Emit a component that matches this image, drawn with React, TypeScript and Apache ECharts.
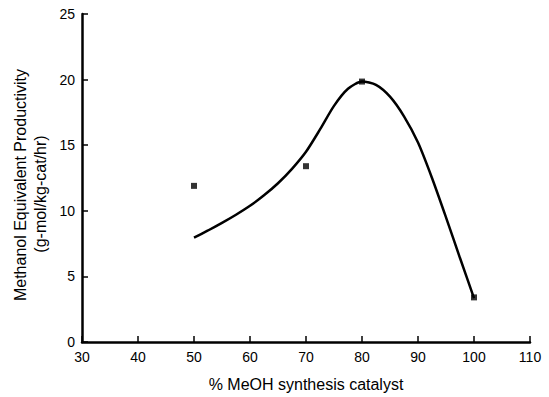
import React, { useEffect, useRef } from "react";
import * as echarts from "echarts";

const xTicks = [30, 40, 50, 60, 70, 80, 90, 100, 110];
const yTicks = [0, 5, 10, 15, 20, 25];
const measuredX = [50, 70, 80, 100];
const measuredY = [11.9, 13.4, 19.85, 3.4];
const fitX = [50, 52.5, 55, 57.5, 60, 62.5, 65, 67.5, 70, 72.5, 75, 77.5, 80, 82.5, 85, 87.5, 90, 92.5, 95, 97.5, 100];
const fitY = [7.95, 8.5, 9.08, 9.7, 10.38, 11.18, 12.1, 13.2, 14.5, 16.2, 18.0, 19.3, 19.85, 19.6, 18.7, 17.2, 15.2, 12.5, 9.5, 6.4, 3.35];
const xTitle = "% MeOH synthesis catalyst";
const yTitle1 = "Methanol Equivalent Productivity";
const yTitle2 = "(g-mol/kg-cat/hr)";

const FONT = "'Liberation Sans', Arial, sans-serif";

export default function App() {
  const ref = useRef<HTMLDivElement>(null);
  useEffect(() => {
    if (!ref.current) return;
    const chart = echarts.init(ref.current, null, { renderer: "svg" });
    const axisCommon = {
      axisLine: { show: true, lineStyle: { color: "#000", width: 2.5 } },
      axisTick: { show: true, inside: true, length: 6, lineStyle: { color: "#000", width: 1.5 } },
      splitLine: { show: false },
      axisLabel: { color: "#000", fontSize: 14, fontFamily: FONT },
    };
    chart.setOption({
      animation: false,
      backgroundColor: "#fff",
      grid: { left: 82, right: 19, top: 14, bottom: 52, containLabel: false },
      xAxis: {
        type: "value",
        min: xTicks[0],
        max: xTicks[xTicks.length - 1],
        interval: 10,
        ...axisCommon,
        axisLabel: { ...axisCommon.axisLabel, margin: 8 },
        name: xTitle,
        nameLocation: "middle",
        nameGap: 34,
        nameTextStyle: { color: "#000", fontSize: 16, fontFamily: FONT },
      },
      yAxis: {
        type: "value",
        min: yTicks[0],
        max: yTicks[yTicks.length - 1],
        interval: 5,
        ...axisCommon,
        axisLabel: { ...axisCommon.axisLabel, margin: 7 },
      },
      graphic: [
        {
          type: "text",
          x: 20,
          y: 185,
          rotation: Math.PI / 2,
          style: {
            text: yTitle1,
            fill: "#000",
            fontSize: 16,
            fontFamily: FONT,
            textAlign: "center",
            textVerticalAlign: "middle",
          },
        },
        {
          type: "text",
          x: 40,
          y: 194,
          rotation: Math.PI / 2,
          style: {
            text: yTitle2,
            fill: "#000",
            fontSize: 16,
            fontFamily: FONT,
            textAlign: "center",
            textVerticalAlign: "middle",
          },
        },
      ],
      series: [
        {
          type: "line",
          data: fitX.map((x, i) => [x, fitY[i]]),
          smooth: 0.25,
          showSymbol: false,
          symbol: "none",
          lineStyle: { color: "#000", width: 2.5 },
          z: 2,
        },
        {
          type: "scatter",
          data: measuredX.map((x, i) => [x, measuredY[i]]),
          symbol: "rect",
          symbolSize: 6,
          itemStyle: { color: "#000" },
          z: 3,
        },
      ],
    });
    return () => chart.dispose();
  }, []);
  return <div ref={ref} style={{ width: 549, height: 397, position: "absolute", left: 0, top: 0 }} />;
}
